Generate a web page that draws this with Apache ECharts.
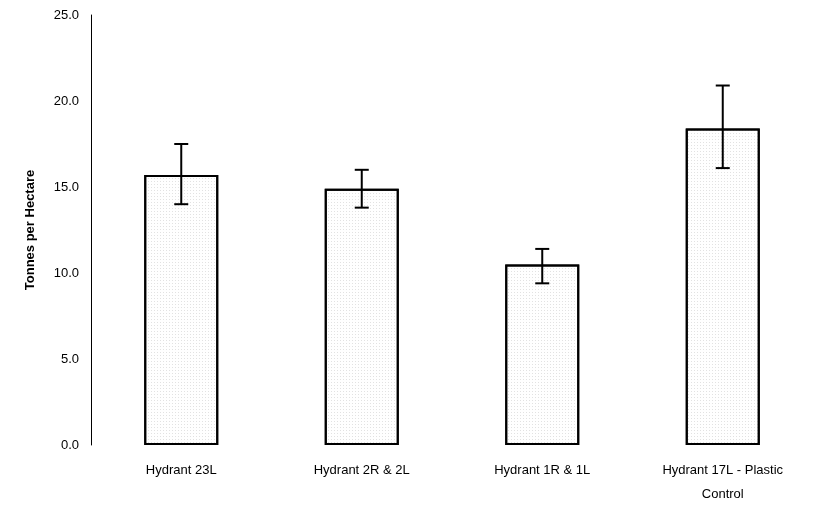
<!DOCTYPE html>
<html><head><meta charset="utf-8">
<script src="https://cdn.jsdelivr.net/npm/echarts@6/dist/echarts.min.js"></script>
<style>html,body{margin:0;padding:0;background:#fff}#c{width:813px;height:509px}</style>
</head><body><div id="c"></div>
<script>
const categories = ['Hydrant 23L', 'Hydrant 2R & 2L', 'Hydrant 1R & 1L', 'Hydrant 17L - Plastic\nControl'];
const values = [15.7, 14.9, 10.5, 18.4];
const errLow = [14.0, 13.8, 9.4, 16.1];
const errHigh = [17.5, 16.0, 11.4, 20.9];
const yTicks = [0, 5, 10, 15, 20, 25];

const chart = echarts.init(document.getElementById('c'));
chart.setOption({
  animation: false,
  backgroundColor: '#fff',
  grid: { left: 91, right: -3, top: 15, bottom: 64 },
  xAxis: {
    type: 'category', data: categories,
    axisLine: { show: false }, axisTick: { show: false },
    axisLabel: { color: '#000', fontFamily: 'Liberation Sans', fontSize: 13, margin: 13, lineHeight: 24, interval: 0 }
  },
  yAxis: {
    type: 'value', min: 0, max: 25, interval: 5,
    name: 'Tonnes per Hectare', nameLocation: 'middle', nameGap: 54,
    nameTextStyle: { color: '#000', fontFamily: 'Liberation Sans', fontWeight: 'bold', fontSize: 13 },
    axisLine: { show: true, lineStyle: { color: '#000', width: 1 } },
    axisTick: { show: false }, splitLine: { show: false },
    axisLabel: { color: '#000', fontFamily: 'Liberation Sans', fontSize: 13, margin: 12, formatter: v => v.toFixed(1) }
  },
  series: [
    {
      type: 'bar', data: values, barWidth: '41%',
      itemStyle: { color: '#fff', borderColor: '#000', borderWidth: 2,
        decal: { symbol: 'circle', symbolSize: 0.25, color: 'rgba(0,0,0,0.35)', dashArrayX: [3, 0], dashArrayY: [3, 0], rotation: 0 } }
    },
    {
      type: 'custom', z: 10,
      data: values.map((v, i) => [i, errLow[i], errHigh[i]]),
      renderItem: (params, api) => {
        const x = api.value(0);
        const lo = api.coord([x, api.value(1)]);
        const hi = api.coord([x, api.value(2)]);
        const w = 7;
        const st = { stroke: '#000', lineWidth: 2 };
        return { type: 'group', children: [
          { type: 'line', shape: { x1: lo[0], y1: lo[1], x2: hi[0], y2: hi[1] }, style: st },
          { type: 'line', shape: { x1: lo[0] - w, y1: lo[1], x2: lo[0] + w, y2: lo[1] }, style: st },
          { type: 'line', shape: { x1: hi[0] - w, y1: hi[1], x2: hi[0] + w, y2: hi[1] }, style: st }
        ]};
      }
    }
  ]
});
</script></body></html>
